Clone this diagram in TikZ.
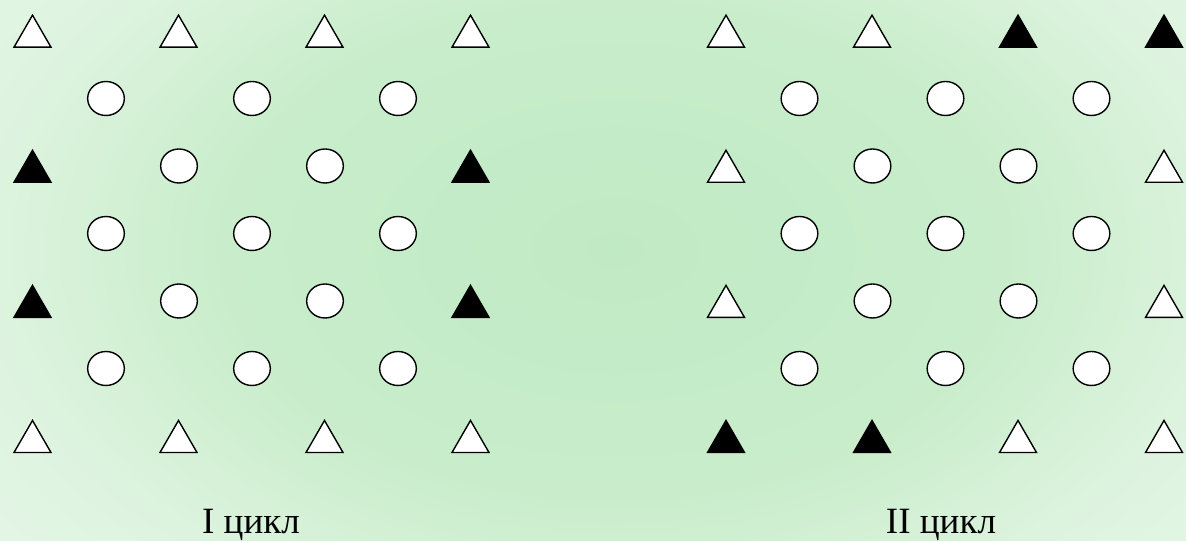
\documentclass[tikz,border=0pt]{standalone}
\usepackage{fontspec}
\setmainfont{Liberation Serif}
\usetikzlibrary{shapes.geometric}
\definecolor{glowMid}{HTML}{C0EAC4}
\definecolor{glowTop}{HTML}{C9EDCB}
\definecolor{glowSide}{HTML}{DCF3DE}
\definecolor{glowEdge}{HTML}{E4F6E6}
\pgfdeclareradialshading{glow}{\pgfpointorigin}{color(0bp)=(glowMid); color(15.5bp)=(glowTop); color(24bp)=(glowSide); color(30.5bp)=(glowEdge); color(50bp)=(glowEdge)}
\tikzset{
  piece/.style={draw=black, line width=1.05pt, inner sep=0pt, outer sep=0pt},
  wtri/.style={piece, regular polygon, regular polygon sides=3,
    minimum size=32pt, fill=white},
  btri/.style={wtri, fill=black},
  ring/.style={piece, ellipse, minimum width=27.5pt, minimum height=25.5pt,
    fill=white},
  cyclab/.style={font=\fontsize{27.8}{32}\selectfont, anchor=base, inner sep=0pt},
}

\begin{document}
\begin{tikzpicture}[x=0.75pt, y=-0.75pt]

  % ---- Background --------------------------------------------------------
  \useasboundingbox (0,0) rectangle (1186,541);
  \shade[shading=glow] (-20,-150) rectangle (1250,650);

  % ---- Cycle I -----------------------------------------------------------
  \node[wtri] (a1) at (32.5,36.5)  {};
  \node[wtri] (a2) at (178.5,36.5) {};
  \node[wtri] (a3) at (324.5,36.5) {};
  \node[wtri] (a4) at (470.5,36.5) {};

  \node[btri] (a5) at (32.5,171.6)  {};
  \node[btri] (a6) at (470.5,171.6) {};
  \node[btri] (a7) at (32.5,306.7)  {};
  \node[btri] (a8) at (470.5,306.7) {};

  \node[wtri] (a9)  at (32.5,441.8)  {};
  \node[wtri] (a10) at (178.5,441.8) {};
  \node[wtri] (a11) at (324.5,441.8) {};
  \node[wtri] (a12) at (470.5,441.8) {};

  % circles between the triangles
  \foreach \y in {98.5,233.5,368.5}
    \foreach \x in {106,252,398}
      \node[ring] (ac-\x-\y) at (\x,\y) {};
  \foreach \y in {166,301}
    \foreach \x in {179,325}
      \node[ring] (ac-\x-\y) at (\x,\y) {};

  \node[cyclab] (labA) at (251,533.5) {I цикл};

  % ---- Cycle II ----------------------------------------------------------
  \node[wtri] (b1) at (726,36.5)  {};
  \node[wtri] (b2) at (872,36.5)  {};
  \node[btri] (b3) at (1018,36.5) {};
  \node[btri] (b4) at (1164,36.5) {};

  \node[wtri] (b5) at (726,171.6)  {};
  \node[wtri] (b6) at (1164,171.6) {};
  \node[wtri] (b7) at (726,306.7)  {};
  \node[wtri] (b8) at (1164,306.7) {};

  \node[btri] (b9)  at (726,441.8)  {};
  \node[btri] (b10) at (872,441.8)  {};
  \node[wtri] (b11) at (1018,441.8) {};
  \node[wtri] (b12) at (1164,441.8) {};

  % circles between the triangles
  \foreach \y in {98.5,233.5,368.5}
    \foreach \x in {799.5,945.5,1091.5}
      \node[ring] (bc-\x-\y) at (\x,\y) {};
  \foreach \y in {166,301}
    \foreach \x in {872.5,1018.5}
      \node[ring] (bc-\x-\y) at (\x,\y) {};

  \node[cyclab] (labB) at (941,533.5) {II цикл};

\end{tikzpicture}
\end{document}
